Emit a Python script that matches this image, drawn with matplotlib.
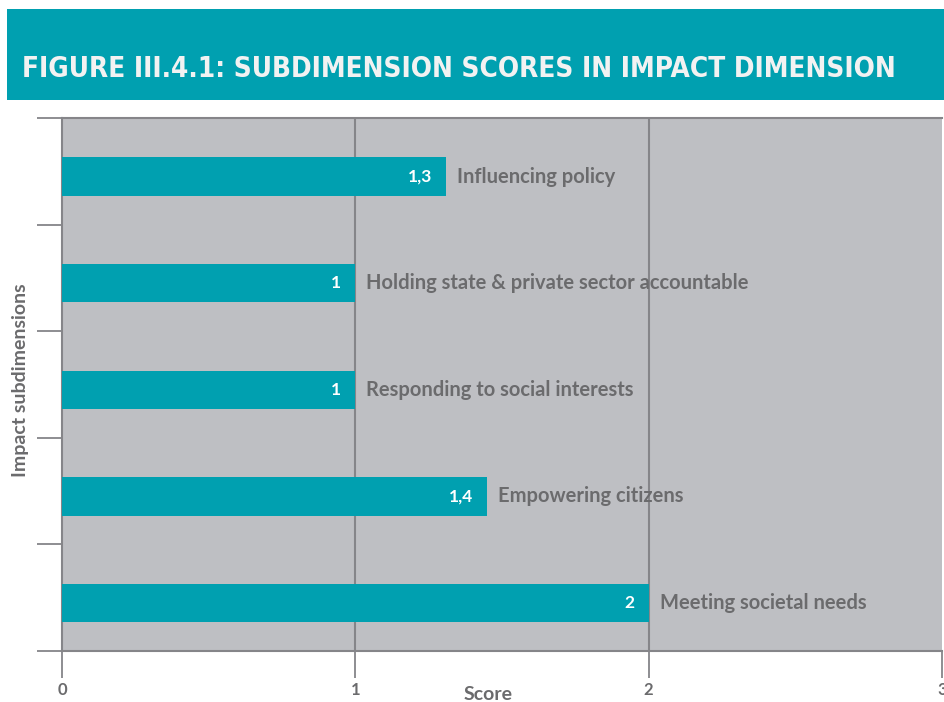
import matplotlib
matplotlib.use("Agg")
import matplotlib.pyplot as plt
from matplotlib.patches import Rectangle

categories = ["Influencing policy", "Holding state & private sector accountable",
              "Responding to social interests", "Empowering citizens", "Meeting societal needs"]
scores = [1.31, 1.0, 1.0, 1.45, 2.0]
score_labels = ["1,3", "1", "1", "1,4", "2"]
xticks = [0, 1, 2, 3]
title = "FIGURE III.4.1: SUBDIMENSION SCORES IN IMPACT DIMENSION"

TEAL = "#00a0b0"
BG = "#bebfc3"
GRID = "#858589"
TXT = "#6b6b6d"

W, H = 944, 702
fig = plt.figure(figsize=(W / 100, H / 100), dpi=100)

# banner
fig.patches.append(Rectangle((7 / W, 1 - 100 / H), (W - 7) / W, 91 / H,
                             transform=fig.transFigure, facecolor=TEAL, edgecolor="none"))
fig.text(22 / W, 1 - 69 / H, title, color="#f2f2f2", fontsize=20, fontweight="bold",
         family="DejaVu Sans", fontstretch="condensed", va="center", ha="left")

ax = fig.add_axes([62 / W, 1 - 651 / H, 880 / W, 533 / H])
ax.set_facecolor(BG)
n = len(categories)
ypos = [i + 0.05 for i in range(n)]
ax.barh(ypos, scores, height=0.36, color=TEAL, zorder=3)
ax.set_xlim(0, 3)
ax.set_ylim(n - 0.5, -0.5)

for x in xticks[1:-1]:
    ax.axvline(x, color=GRID, lw=1.5, zorder=2)

for y, v, lab, cat in zip(ypos, scores, score_labels, categories):
    ax.annotate(lab, (v, y), xytext=(-10, 0), textcoords="offset points", ha="right",
                va="center", color="white", fontsize=12.5, fontweight="bold", family="Lato", zorder=4)
    ax.annotate(cat, (v, y), xytext=(8, 0), textcoords="offset points", ha="left",
                va="center", color=TXT, fontsize=14.5, fontweight="bold", family="Lato", zorder=4)

ax.set_yticks([i - 0.5 for i in range(n + 1)])
ax.set_yticklabels([])
ax.tick_params(axis="y", length=18, width=1.3, color=GRID)
ax.set_xticks(xticks)
ax.set_xticklabels([str(t) for t in xticks], fontsize=12, color=TXT, fontweight="bold", family="Lato")
ax.tick_params(axis="x", length=19.5, width=1.3, color=GRID, pad=3)

for s in ["left", "bottom", "top"]:
    ax.spines[s].set_color(GRID)
    ax.spines[s].set_linewidth(1.5)
ax.spines["right"].set_visible(False)

ax.set_xlabel("Score", fontsize=14, color=TXT, fontweight="bold", family="Lato")
ax.xaxis.set_label_coords((488 - 62) / 880, -(686 - 651) / 533)
ax.set_ylabel("Impact subdimensions", fontsize=14, color=TXT, fontweight="bold", family="Lato")
ax.yaxis.set_label_coords(-(62 - 29) / 880, (651 - 380) / 533)

fig.savefig("out.png", dpi=100)
